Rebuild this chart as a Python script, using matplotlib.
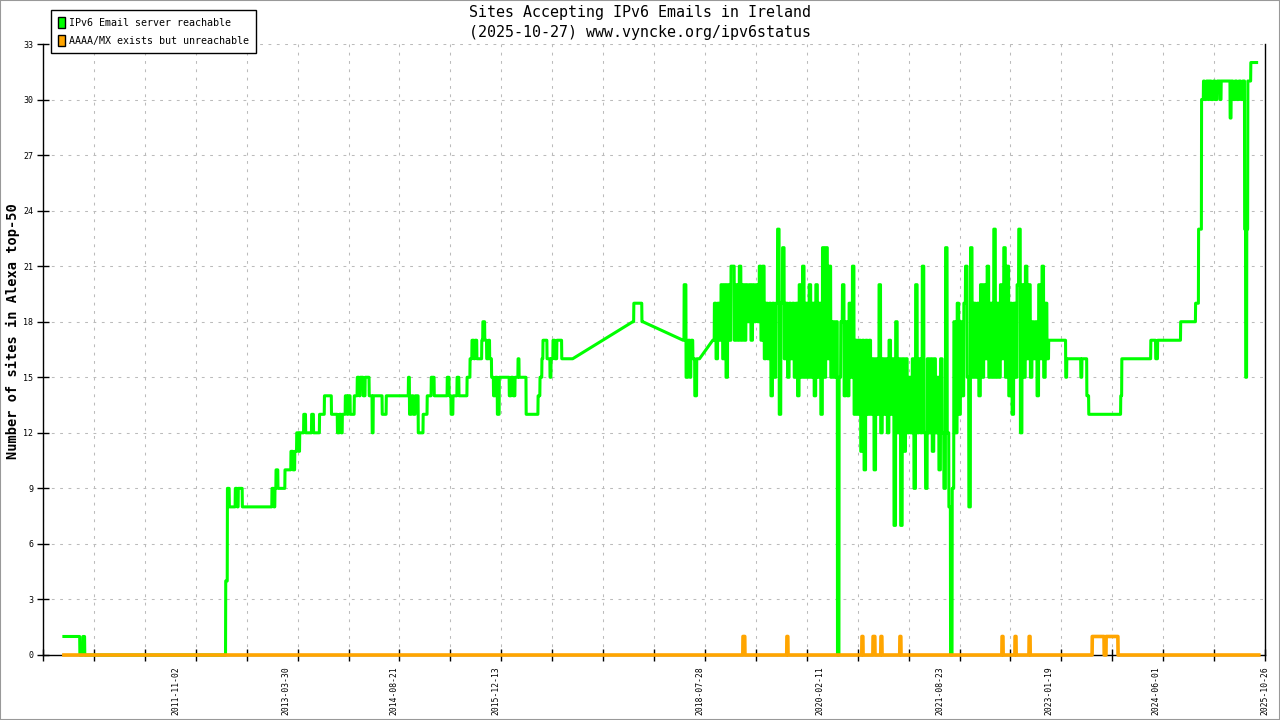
import matplotlib
matplotlib.use("Agg")
import matplotlib.pyplot as plt
import matplotlib.dates as mdates
from matplotlib.patches import Patch, Rectangle
import numpy as np
import pandas as pd

plt.rcParams['font.family'] = ['DejaVu Sans Mono', 'DejaVu Sans']

# -------------------------
# Data
# -------------------------
x_start = "2010-02-17"
x_end = "2025-10-27"
first_sample = "2010-05-26"

# (sites, number of days) ; None = no measurement in that period
green_runs_early = [
    (1, 75), (0, 14), (1, 9), (0, 661), (4, 8), (9, 9), (8, 28), (9, 9), (8, 5),
    (9, 19), (8, 139), (9, 9), (8, 5), (9, 5), (10, 9), (9, 33), (10, 28), (11, 9),
    (10, 9), (11, 9), (12, 9), (11, 5), (12, 19), (13, 9), (12, 28), (13, 9),
    (12, 28), (13, 23), (14, 33), (13, 28), (12, 9), (13, 9), (12, 5), (13, 14),
    (14, 9), (13, 5), (14, 9), (13, 19), (14, 14), (15, 9), (14, 5), (15, 14),
    (14, 9), (15, 19), (14, 14), (12, 5), (14, 42), (13, 19), (14, 104), (15, 5),
    (13, 9), (14, 9), (13, 9), (14, 14), (12, 23), (13, 19), (14, 19), (15, 14),
    (14, 61), (15, 9), (14, 9), (13, 9), (14, 19), (15, 9), (14, 38), (15, 14),
    (16, 9), (17, 9), (16, 5), (17, 9), (16, 23), (17, 5), (18, 9), (17, 9),
    (16, 9), (17, 5), (16, 9), (15, 9), (14, 9), (15, 9), (13, 9), (15, 47),
    (14, 9), (15, 9), (14, 9), (15, 14), (16, 5), (15, 33), (13, 56), (14, 9),
    (15, 9), (16, 5), (17, 19), (16, 14), (15, 5), (16, 9), (17, 9), (16, 9),
    (17, 23), (16, 52), (None, 281), (18, 5), (19, 38), (18, 5), (None, 188),
    (17, 5), (20, 9), (15, 9), (17, 9), (15, 5), (17, 9), (16, 9), (14, 9),
    (16, 14), (None, 61),
]

# 2018-2023: very noisy period, one value per noise_step_days
noise_step_days = 7.8
green_noise = [
    17, 19, 16, 19, 17, 20, 16, 20, 15, 20, 17, 21, 21, 17, 20, 17, 21, 17,
    20, 17, 20, 18, 20, 17, 20, 18, 20, 18, 21, 17, 21, 16, 19, 16, 19, 14,
    19, 15, 19, 23, 13, 19, 22, 16, 19, 15, 19, 16, 19, 15, 19, 14, 20, 15,
    21, 15, 19, 15, 20, 15, 19, 14, 20, 15, 19, 13, 22, 15, 22, 16, 21, 15,
    18, 15, 18, 0, 15, 18, 20, 14, 18, 14, 19, 15, 21, 13, 17, 13, 17, 11,
    17, 10, 17, 13, 17, 13, 16, 10, 16, 13, 20, 12, 16, 13, 16, 12, 17, 13,
    16, 7, 18, 12, 16, 7, 16, 11, 16, 12, 15, 12, 16, 9, 20, 12, 16, 12,
    21, 12, 9, 16, 12, 16, 11, 16, 12, 15, 10, 16, 12, 9, 22, 12, 8, 0,
    9, 18, 12, 19, 13, 18, 14, 19, 21, 15, 8, 22, 15, 19, 15, 19, 14, 20,
    15, 20, 16, 21, 15, 19, 15, 23, 15, 19, 15, 20, 16, 22, 15, 21, 14, 19,
    13, 19, 15, 20, 23, 12, 20, 15, 21, 16, 20, 15, 18, 16, 18, 14, 20, 16,
    21, 15, 19, 16,
]

green_runs_late = [
    (17, 80), (15, 5), (16, 66), (15, 5), (16, 23), (14, 9), (13, 150), (14, 5),
    (16, 136), (17, 23), (16, 9), (17, 108), (18, 70), (19, 14), (23, 14),
    (30, 9), (31, 5), (30, 9), (31, 9), (30, 5), (31, 9), (30, 9), (31, 9),
    (30, 9), (31, 14), (30, 5), (31, 42), (29, 5), (31, 9), (30, 9), (31, 9),
    (30, 9), (31, 9), (30, 9), (31, 9), (23, 5), (15, 5), (23, 5), (31, 14),
    (32, 28),
]

orange_runs = [
    (0, 3185), (1, 9), (0, 197), (1, 5), (0, 347), (1, 5), (0, 47), (1, 9),
    (0, 28), (1, 5), (0, 84), (1, 5), (0, 474), (1, 5), (0, 56), (1, 5),
    (0, 61), (1, 5), (0, 291), (1, 56), (0, 9), (1, 56), (0, 661),
]

tick_dates = ["2011-11-02", "2013-03-30", "2014-08-21", "2015-12-13", "2018-07-28",
              "2020-02-11", "2021-08-23", "2023-01-19", "2024-06-01", "2025-10-26"]


def expand(runs, t):
    xs, ys = [], []
    for v, d in runs:
        if v is not None:
            xs += [t, t + d - 1]
            ys += [v, v]
        t += d
    return xs, ys, t


t0 = mdates.date2num(pd.Timestamp(first_sample))
gx1, gy1, t = expand(green_runs_early, t0)
gx2, gy2, t = expand([(v, noise_step_days) for v in green_noise], t)
gx3, gy3, t = expand(green_runs_late, t)
green_x = gx1 + gx2 + gx3
green_y = gy1 + gy2 + gy3
orange_x, orange_y, _ = expand(orange_runs, t0)

# -------------------------
# Plot
# -------------------------
fig = plt.figure(figsize=(12.8, 7.2), dpi=100)
ax = fig.add_axes([43 / 1280, 65 / 720, 1222 / 1280, 611 / 720])

ax.plot(green_x, green_y, color="#00ff00", lw=2.2, zorder=3, clip_on=False)
ax.plot(orange_x, orange_y, color="#ffa500", lw=2.6, zorder=4, clip_on=False)

xa = mdates.date2num(pd.Timestamp(x_start))
xb = mdates.date2num(pd.Timestamp(x_end))
ax.set_xlim(xa, xb)
ax.set_ylim(0, 33)

ax.set_xticks(np.linspace(xa, xb, 25))
ax.set_xticklabels([])
ax.set_xticks([mdates.date2num(pd.Timestamp(d)) for d in tick_dates], minor=True)
ax.set_xticklabels(tick_dates, minor=True, rotation=90, fontsize=5.8)
ax.tick_params(axis="x", which="major", direction="inout", length=9, width=1)
ax.tick_params(axis="x", which="minor", length=0, pad=8)

ax.set_yticks(range(0, 34, 3))
ax.tick_params(axis="y", direction="inout", length=8, width=1, labelsize=6, pad=3)

ax.grid(True, which="major", color="#bbbbbb", lw=0.75, linestyle=(0, (2.7, 5.3)))
ax.set_axisbelow(True)

ax.spines["top"].set_visible(False)
for s in ["left", "bottom", "right"]:
    ax.spines[s].set_linewidth(1)

fig.text(13 / 1280, 1 - 331 / 720, "Number of sites in Alexa top-50", rotation=90,
         ha="center", va="center", fontsize=9.8, fontweight="bold")

fig.text(0.5, 1 - 13 / 720, "Sites Accepting IPv6 Emails in Ireland",
         ha="center", va="center", fontsize=10.8)
fig.text(0.5, 1 - 32 / 720, "(2025-10-27) www.vyncke.org/ipv6status",
         ha="center", va="center", fontsize=10.8)

handles = [Patch(facecolor="#00ff00", edgecolor="black", lw=1),
           Patch(facecolor="#ffa500", edgecolor="black", lw=1)]
leg = ax.legend(handles, ["IPv6 Email server reachable", "AAAA/MX exists but unreachable"],
                loc="upper left", bbox_to_anchor=(51 / 1280, 1 - 10 / 720),
                bbox_transform=fig.transFigure, fontsize=7.2, frameon=True,
                fancybox=False, edgecolor="black", framealpha=1,
                handlelength=0.7, handleheight=1.3, handletextpad=0.4,
                borderpad=0.7, labelspacing=0.75, borderaxespad=0)
leg.get_frame().set_linewidth(1)

fig.patches.append(Rectangle((0, 0), 1, 1, transform=fig.transFigure, fill=False,
                             edgecolor="#999999", lw=1.5))

fig.savefig("out.png", dpi=100)
